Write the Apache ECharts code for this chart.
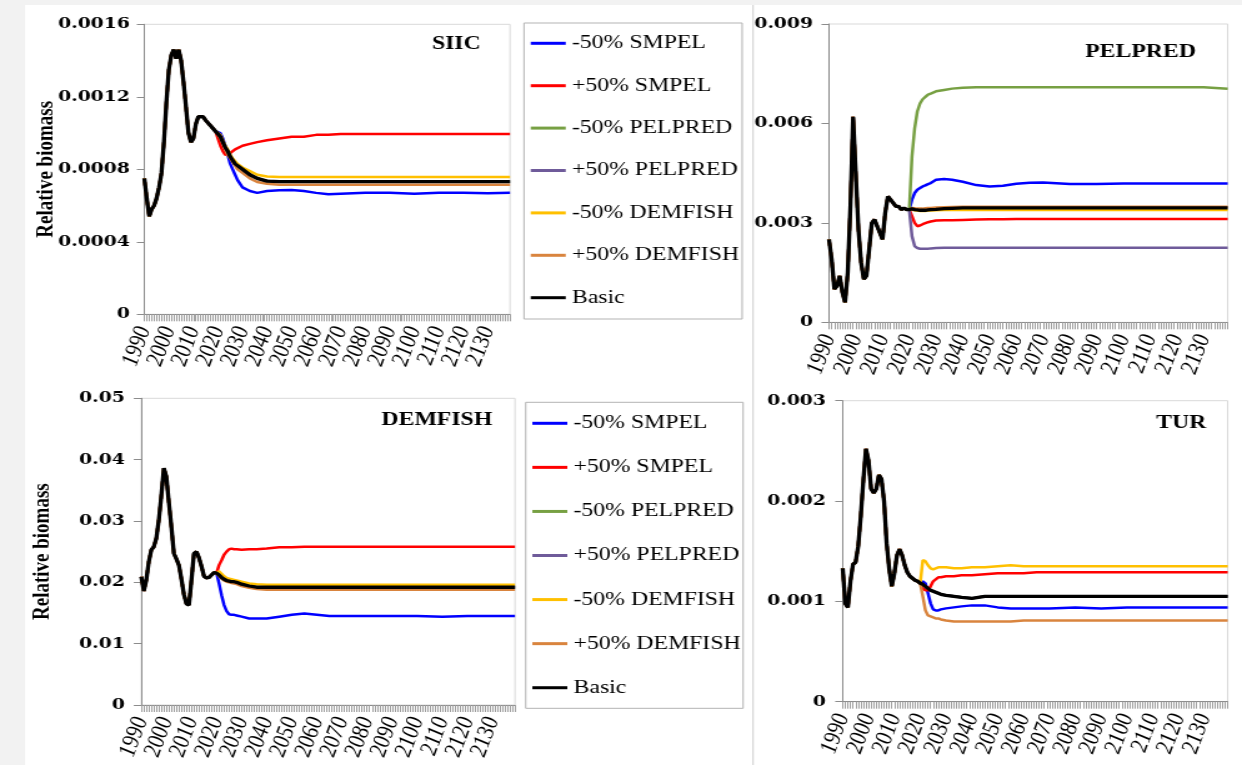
<!DOCTYPE html>
<html>
<head>
<meta charset="utf-8">
<script src="https://cdn.jsdelivr.net/npm/echarts@6/dist/echarts.min.js"></script>
<style>
  html, body { margin: 0; padding: 0; background: #f2f2f2; overflow: hidden; }
  /* the figure is drawn 994px wide and widened to the 1242px window */
  #chart { width: 994px; height: 765px; transform: scaleX(1.249497); transform-origin: 0 0; }
</style>
</head>
<body>
<div id="chart"></div>
<script>
// ---------- data ----------
const histYears = [1990, 1991, 1992, 1993, 1994, 1995, 1996, 1997, 1998, 1999,
                   2000, 2001, 2002, 2003, 2004, 2005, 2006, 2007, 2008, 2009,
                   2010, 2011, 2012, 2013, 2014, 2015, 2016, 2017, 2018, 2019, 2020];
const projYears = [2021, 2022, 2023, 2024, 2025, 2026, 2027, 2028, 2030, 2033, 2036, 2040,
                   2045, 2050, 2055, 2060, 2065, 2070, 2080, 2090, 2100, 2110, 2120, 2130, 2139];

const seriesNames = ['-50% SMPEL', '+50% SMPEL', '-50% PELPRED', '+50% PELPRED',
                     '-50% DEMFISH', '+50% DEMFISH', 'Basic'];
const seriesColors = ['#0000ff', '#ff0000', '#77a043', '#6f5b9a', '#ffc000', '#d9843e', '#000000'];
const panelTitles = ['SIIC', 'PELPRED', 'DEMFISH', 'TUR'];
const yMax = [0.0016, 0.009, 0.05, 0.003];
const yStep = [0.0004, 0.003, 0.01, 0.001];

// SIIC
const siicHist = [0.00075, 0.00064, 0.00054, 0.00058, 0.00060, 0.00064, 0.00070, 0.00078, 0.00095, 0.00117,
                  0.00135, 0.00143, 0.00146, 0.00141, 0.00146, 0.00140, 0.00128, 0.00114, 0.00100, 0.00095,
                  0.00097, 0.00105, 0.00109, 0.00110, 0.00109, 0.00107, 0.00106, 0.00104, 0.00103, 0.00101, 0.00100];
const siicBasic = [0.00098, 0.00095, 0.00092, 0.00090, 0.00087, 0.00085, 0.00083, 0.00082, 0.00080, 0.00077, 0.00075, 0.000735,
                   0.000732, 0.000732, 0.000732, 0.000732, 0.000732, 0.000732, 0.000732, 0.000732, 0.000732, 0.000732, 0.000732, 0.000732, 0.000732];
const siicMinusSmpel = [0.00100, 0.00097, 0.00093, 0.00088, 0.00083, 0.00080, 0.00077, 0.00074, 0.00070, 0.00068, 0.00067, 0.00068,
                        0.000685, 0.000686, 0.00068, 0.00067, 0.000662, 0.000665, 0.00067, 0.00067, 0.000665, 0.00067, 0.00067, 0.000668, 0.00067];
const siicPlusSmpel = [0.00093, 0.00090, 0.00088, 0.00088, 0.00089, 0.00090, 0.00091, 0.00092, 0.00093, 0.00094, 0.00095, 0.00096,
                       0.00097, 0.00098, 0.00098, 0.00099, 0.00099, 0.000995, 0.000995, 0.000995, 0.000995, 0.000995, 0.000995, 0.000995, 0.000995];
const siicMinusPelpred = siicBasic;
const siicPlusPelpred = siicBasic;
const siicMinusDemfish = [0.00099, 0.00096, 0.00093, 0.00091, 0.00088, 0.00086, 0.00085, 0.00083, 0.00081, 0.00079, 0.00077, 0.00076,
                          0.000757, 0.000757, 0.000757, 0.000757, 0.000757, 0.000757, 0.000757, 0.000757, 0.000757, 0.000757, 0.000757, 0.000757, 0.000757];
const siicPlusDemfish = [0.00097, 0.00094, 0.00091, 0.00088, 0.00086, 0.00084, 0.00082, 0.00080, 0.00078, 0.00075, 0.00073, 0.00072,
                         0.000715, 0.000715, 0.000715, 0.000715, 0.000715, 0.000715, 0.000715, 0.000715, 0.000715, 0.000715, 0.000715, 0.000715, 0.000715];

// PELPRED
const pelHist = [0.0025, 0.0019, 0.0010, 0.0011, 0.0014, 0.0009, 0.0006, 0.0015, 0.0035, 0.0062,
                 0.0045, 0.0028, 0.0018, 0.0013, 0.0014, 0.0022, 0.0030, 0.0031, 0.0029, 0.0027,
                 0.0025, 0.0033, 0.0038, 0.0037, 0.0036, 0.0035, 0.0035, 0.0034, 0.00345, 0.0034, 0.0034];
const pelBasic = [0.00342, 0.0034, 0.00339, 0.00338, 0.00338, 0.00338, 0.00339, 0.0034, 0.00341, 0.00343, 0.00344, 0.00345,
                  0.00345, 0.00345, 0.00345, 0.00345, 0.00345, 0.00345, 0.00345, 0.00345, 0.00345, 0.00345, 0.00345, 0.00345, 0.00345];
const pelMinusSmpel = [0.0037, 0.0039, 0.0040, 0.00405, 0.0041, 0.00413, 0.00417, 0.0042, 0.0043, 0.00432, 0.0043, 0.00424,
                       0.00414, 0.0041, 0.00412, 0.00418, 0.00421, 0.00422, 0.00417, 0.00417, 0.00419, 0.00419, 0.00419, 0.00419, 0.00419];
const pelPlusSmpel = [0.0032, 0.0030, 0.0029, 0.00292, 0.00296, 0.00299, 0.00302, 0.00304, 0.00307, 0.00308, 0.00308, 0.00309,
                      0.0031, 0.00311, 0.00311, 0.00312, 0.00312, 0.00312, 0.00312, 0.00312, 0.00312, 0.00312, 0.00312, 0.00312, 0.00312];
const pelMinusPelpred = [0.0050, 0.00585, 0.00636, 0.0066, 0.00673, 0.0068, 0.00687, 0.0069, 0.00697, 0.00701, 0.00705, 0.00708,
                         0.00709, 0.00709, 0.00709, 0.00709, 0.00709, 0.00709, 0.00709, 0.00709, 0.00709, 0.00709, 0.00709, 0.00709, 0.00705];
const pelPlusPelpred = [0.0026, 0.0023, 0.00224, 0.00222, 0.00222, 0.00222, 0.00222, 0.00223, 0.00224, 0.00225, 0.00225, 0.00225,
                        0.00225, 0.00225, 0.00225, 0.00225, 0.00225, 0.00225, 0.00225, 0.00225, 0.00225, 0.00225, 0.00225, 0.00225, 0.00225];
const pelMinusDemfish = [0.0034, 0.00338, 0.00337, 0.00336, 0.00336, 0.00336, 0.00337, 0.00337, 0.00338, 0.00339, 0.00339, 0.00339,
                         0.00339, 0.00339, 0.00339, 0.00339, 0.00339, 0.00339, 0.00339, 0.00339, 0.00339, 0.00339, 0.00339, 0.00339, 0.00339];
const pelPlusDemfish = [0.00345, 0.00344, 0.00343, 0.00343, 0.00343, 0.00344, 0.00345, 0.00345, 0.00346, 0.00347, 0.00348, 0.00349,
                        0.00349, 0.00349, 0.00349, 0.00349, 0.00349, 0.00349, 0.00349, 0.00349, 0.00349, 0.00349, 0.00349, 0.00349, 0.00349];

// DEMFISH
const demHist = [0.0209, 0.0186, 0.0204, 0.0234, 0.0253, 0.0258, 0.0272, 0.0302, 0.0342, 0.0386,
                 0.0372, 0.0330, 0.0290, 0.0247, 0.0238, 0.0228, 0.0205, 0.0180, 0.0165, 0.0163,
                 0.0204, 0.0247, 0.0250, 0.0240, 0.0226, 0.0210, 0.0207, 0.0208, 0.0212, 0.0216, 0.0215];
const demBasic = [0.0212, 0.0208, 0.0205, 0.0203, 0.0202, 0.0201, 0.0201, 0.0200, 0.0197, 0.0194, 0.0192, 0.0192,
                  0.0192, 0.0192, 0.0192, 0.0192, 0.0192, 0.0192, 0.0192, 0.0192, 0.0192, 0.0192, 0.0192, 0.0192, 0.0192];
const demMinusSmpel = [0.0198, 0.0179, 0.0163, 0.0153, 0.0148, 0.0147, 0.0147, 0.0146, 0.0144, 0.0141, 0.0141, 0.0141,
                       0.0144, 0.0147, 0.0149, 0.0147, 0.0145, 0.0145, 0.0145, 0.0145, 0.0145, 0.0144, 0.0145, 0.0145, 0.0145];
const demPlusSmpel = [0.0228, 0.0236, 0.0245, 0.0250, 0.0254, 0.0255, 0.0254, 0.0254, 0.0253, 0.0254, 0.0254, 0.0255,
                      0.0257, 0.0257, 0.0258, 0.0258, 0.0258, 0.0258, 0.0258, 0.0258, 0.0258, 0.0258, 0.0258, 0.0258, 0.0258];
const demMinusPelpred = demBasic;
const demPlusPelpred = demBasic;
const demMinusDemfish = [0.0218, 0.0214, 0.0210, 0.0207, 0.0206, 0.0205, 0.0204, 0.0203, 0.0201, 0.0198, 0.0197, 0.0196,
                         0.0196, 0.0196, 0.0196, 0.0196, 0.0196, 0.0196, 0.0196, 0.0196, 0.0196, 0.0196, 0.0196, 0.0196, 0.0196];
const demPlusDemfish = [0.0210, 0.0206, 0.0203, 0.0201, 0.0200, 0.0199, 0.0198, 0.0197, 0.0194, 0.0191, 0.0189, 0.0188,
                        0.0188, 0.0188, 0.0188, 0.0188, 0.0188, 0.0188, 0.0188, 0.0188, 0.0188, 0.0188, 0.0188, 0.0188, 0.0188];

// TUR
const turHist = [0.00133, 0.00098, 0.00094, 0.00120, 0.00137, 0.00139, 0.00155, 0.00185, 0.00221, 0.00252,
                 0.00240, 0.00212, 0.00208, 0.00212, 0.00226, 0.00222, 0.00200, 0.00158, 0.00132, 0.00115,
                 0.00128, 0.00146, 0.00152, 0.00146, 0.00136, 0.00129, 0.00125, 0.00123, 0.00121, 0.00120, 0.00118];
const turBasic = [0.00117, 0.00115, 0.00113, 0.00111, 0.00110, 0.00109, 0.00108, 0.00107, 0.00106, 0.00105, 0.00104, 0.00103,
                  0.00105, 0.00105, 0.00105, 0.00105, 0.00105, 0.00105, 0.00105, 0.00105, 0.00105, 0.00105, 0.00105, 0.00105, 0.00105];
const turMinusSmpel = [0.00120, 0.00118, 0.00108, 0.00098, 0.00092, 0.00091, 0.00091, 0.00092, 0.00093, 0.00094, 0.00095, 0.00096,
                       0.00096, 0.00094, 0.00093, 0.00093, 0.00093, 0.00093, 0.00094, 0.00093, 0.00094, 0.00094, 0.00094, 0.00094, 0.00094];
const turPlusSmpel = [0.00113, 0.00111, 0.00111, 0.00115, 0.00120, 0.00122, 0.00124, 0.00124, 0.00125, 0.00125, 0.00126, 0.00126,
                      0.00127, 0.00128, 0.00128, 0.00128, 0.00129, 0.00129, 0.00129, 0.00129, 0.00129, 0.00129, 0.00129, 0.00129, 0.00129];
const turMinusPelpred = turBasic;
const turPlusPelpred = turBasic;
const turMinusDemfish = [0.00141, 0.00140, 0.00136, 0.00133, 0.00132, 0.00133, 0.00134, 0.00134, 0.00134, 0.00133, 0.00133, 0.00134,
                         0.00134, 0.00135, 0.00136, 0.00135, 0.00135, 0.00135, 0.00135, 0.00135, 0.00135, 0.00135, 0.00135, 0.00135, 0.00135];
const turPlusDemfish = [0.00105, 0.00091, 0.00086, 0.00085, 0.00084, 0.00083, 0.00083, 0.00082, 0.00081, 0.00080, 0.00080, 0.00080,
                        0.00080, 0.00080, 0.00080, 0.00081, 0.00081, 0.00081, 0.00081, 0.00081, 0.00081, 0.00081, 0.00081, 0.00081, 0.00081];

const panels = [
  { hist: siicHist, proj: [siicMinusSmpel, siicPlusSmpel, siicMinusPelpred, siicPlusPelpred, siicMinusDemfish, siicPlusDemfish, siicBasic] },
  { hist: pelHist,  proj: [pelMinusSmpel, pelPlusSmpel, pelMinusPelpred, pelPlusPelpred, pelMinusDemfish, pelPlusDemfish, pelBasic] },
  { hist: demHist,  proj: [demMinusSmpel, demPlusSmpel, demMinusPelpred, demPlusPelpred, demMinusDemfish, demPlusDemfish, demBasic] },
  { hist: turHist,  proj: [turMinusSmpel, turPlusSmpel, turMinusPelpred, turPlusPelpred, turMinusDemfish, turPlusDemfish, turBasic] }
];

// ---------- layout (page pixels, converted to chart units horizontally) ----------
const S = 1242 / 994;
const X = v => v / S;
const SERIF = 'Liberation Serif, Times New Roman, serif';
const TICK_FONT = 'DejaVu Serif, serif';

// plot rectangles: [left, top, right, bottom] in page pixels
const plotBoxes = [
  [144.3, 24.3, 510.0, 314.3],
  [829.0, 24.0, 1227.7, 322.3],
  [141.3, 398.3, 515.0, 705.0],
  [842.7, 400.7, 1227.7, 701.7]
];
const yLabelMargin = [14.5, 16, 16.5, 16.8];
const titlePos = [[456.3, 44], [1140.5, 51.7], [436.8, 420], [1181.3, 423]];

const grids = plotBoxes.map(b => ({
  left: X(b[0]), top: b[1], width: X(b[2]) - X(b[0]), height: b[3] - b[1],
  show: true, borderColor: '#d9d9d9', borderWidth: 1, backgroundColor: 'transparent',
  outerBoundsMode: 'none'
}));

const xAxes = plotBoxes.map((b, i) => ({
  type: 'value', gridIndex: i, min: 1990, max: 2139, interval: 1,
  axisLine: { show: true, onZero: false, lineStyle: { color: '#8c8c8c', width: 1 } },
  axisTick: { show: true, length: 7, lineStyle: { color: '#a0a0a0', width: 1 } },
  axisLabel: {
    rotate: 73, margin: 13, color: '#000', fontFamily: SERIF, fontSize: 20, fontStyle: 'italic',
    formatter: v => (v % 10 === 0 ? String(v) : '')
  },
  splitLine: { show: false }
}));

const yAxes = plotBoxes.map((b, i) => ({
  type: 'value', gridIndex: i, min: 0, max: yMax[i], interval: yStep[i],
  axisLine: { show: true, lineStyle: { color: '#8c8c8c', width: 1 } },
  axisTick: { show: true, length: 6, lineStyle: { color: '#8c8c8c', width: 1 } },
  axisLabel: { margin: X(yLabelMargin[i]), color: '#000', fontFamily: TICK_FONT, fontWeight: 'bold', fontSize: 15 },
  splitLine: { show: false },
  name: (i === 0 || i === 2) ? 'Relative biomass' : '',
  nameLocation: 'middle', nameRotate: 90, nameGap: 69, nameMoveOverlap: false,
  nameTextStyle: { color: '#000', fontFamily: SERIF, fontWeight: 'bold', fontSize: 19 }
}));

const series = [];
panels.forEach((p, i) => {
  seriesNames.forEach((name, k) => {
    const pts = histYears.map((y, j) => [y, p.hist[j]])
      .concat(projYears.map((y, j) => [y, p.proj[k][j]]));
    series.push({
      name, type: 'line', xAxisIndex: i, yAxisIndex: i, data: pts,
      symbol: 'none', showSymbol: false, smooth: false,
      lineStyle: { color: seriesColors[k], width: k === 6 ? 3.3 : 2.5 },
      itemStyle: { color: seriesColors[k] },
      emphasis: { disabled: true },
      z: 2
    });
  });
});

const legendBase = {
  data: seriesNames, orient: 'vertical', icon: 'rect', itemWidth: 28, itemHeight: 3,
  backgroundColor: '#ffffff', borderColor: '#b3b3b3', borderWidth: 1,
  textStyle: { fontFamily: SERIF, fontSize: 19, lineHeight: 20, color: '#000' },
  selectedMode: false
};
const legends = [
  Object.assign({}, legendBase, { left: X(524), top: 23, padding: [10.3, 2.5, 11.3, 5.4], itemGap: 22.4 }),
  Object.assign({}, legendBase, { left: X(525.7), top: 402.3, padding: [11, 2, 10.6, 5.3], itemGap: 24.07 })
];

const graphics = [
  { type: 'rect', shape: { x: 0, y: 0, width: X(25), height: 765 }, style: { fill: '#f2f2f2' }, silent: true, z: -10 },
  { type: 'rect', shape: { x: 0, y: 0, width: X(1242), height: 5 }, style: { fill: '#f2f2f2' }, silent: true, z: -10 },
  { type: 'line', shape: { x1: X(753), y1: 5, x2: X(753), y2: 765 }, style: { stroke: '#d6d6d6', lineWidth: 1.2 }, silent: true, z: -5 }
].concat(panelTitles.map((t, i) => ({
  type: 'text', x: X(titlePos[i][0]), y: titlePos[i][1], silent: true, z: 10,
  style: { text: t, fill: '#000', font: 'bold 19px ' + SERIF, textAlign: 'center', textVerticalAlign: 'middle' }
})));

const chart = echarts.init(document.getElementById('chart'), null, { renderer: 'canvas' });
chart.setOption({
  animation: false,
  backgroundColor: '#ffffff',
  grid: grids,
  xAxis: xAxes,
  yAxis: yAxes,
  legend: legends,
  graphic: graphics,
  series
});
</script>
</body>
</html>
